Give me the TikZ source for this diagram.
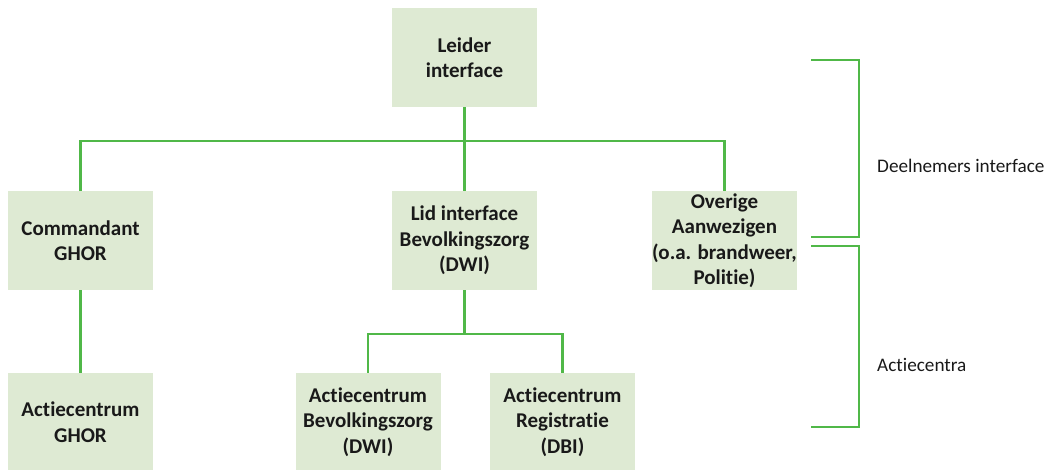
\documentclass[tikz,border=0pt]{standalone}
\usepackage{fontspec}
\setmainfont[Ligatures={NoCommon}]{Carlito}
\definecolor{boxfill}{RGB}{222,234,211}
\definecolor{linegreen}{RGB}{80,184,72}
\definecolor{txt}{RGB}{25,25,25}
\tikzset{
  orgbox/.style={fill=boxfill, draw=none, minimum width=145pt, minimum height=99pt, align=center, text=txt, font=\fontsize{21}{25.5}\selectfont\bfseries, inner sep=0pt},
  conn/.style={draw=linegreen, line width=2.5pt, line join=miter},
  sidelabel/.style={anchor=west, text=txt, font=\fontsize{19.2}{23}\selectfont, inner sep=0pt}
}
\begin{document}
\begin{tikzpicture}[x=1pt,y=-1pt]
\useasboundingbox (0,0) rectangle (1050,469);
\node[orgbox] (leider) at (464.5,57.5) {Leider\\interface};
\node[orgbox] (cmd) at (80.5,240.5) {Commandant\\GHOR};
\node[orgbox] (lid) at (464.5,240.5) {Lid interface\\Bevolkingszorg\\(DWI)};
\node[orgbox] (ove) at (724.5,240.5) {Overige\\Aanwezigen\\(o.a. brandweer,\\Politie)};
\node[orgbox, minimum height=98pt] (acg) at (80.5,422) {Actiecentrum\\GHOR};
\node[orgbox, minimum height=98pt] (acb) at (368,422) {Actiecentrum\\Bevolkingszorg\\(DWI)};
\node[orgbox, minimum height=98pt] (acr) at (562.5,422) {Actiecentrum\\Registratie\\(DBI)};
\coordinate (bus1) at (464.5,141);
\coordinate (bus2) at (464.5,334);
\draw[conn] (leider.south) -- (bus1);
\draw[conn] (cmd.north) |- (bus1) -| (ove.north);
\draw[conn] (bus1) -- (lid.north);
\draw[conn] (lid.south) -- (bus2);
\draw[conn] (acb.north) |- (bus2) -| (acr.north);
\draw[conn] (cmd.south) -- (acg.north);
\coordinate (b1a) at (811,60);
\coordinate (b1b) at (859,60);
\coordinate (b1c) at (859,237);
\coordinate (b1d) at (811,237);
\coordinate (b2a) at (811,246);
\coordinate (b2b) at (859,246);
\coordinate (b2c) at (859,427);
\coordinate (b2d) at (811,427);
\draw[conn] (b1a) -- (b1b) -- (b1c) -- (b1d);
\draw[conn] (b2a) -- (b2b) -- (b2c) -- (b2d);
\node[sidelabel] (dl) at (877,166) {Deelnemers interface};
\node[sidelabel] (ac) at (877,365) {Actiecentra};
\end{tikzpicture}
\end{document}
